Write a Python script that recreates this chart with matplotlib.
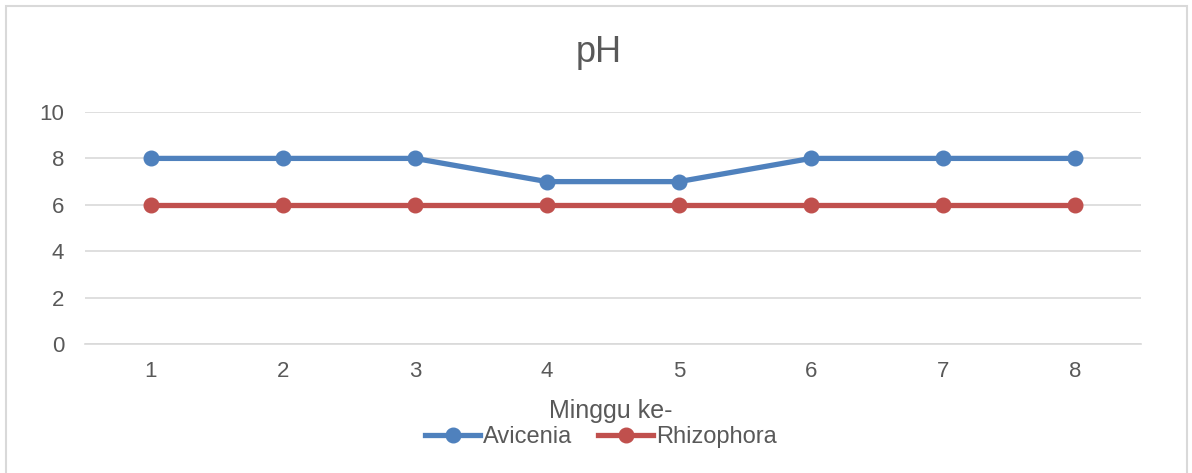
import matplotlib.pyplot as plt
from matplotlib.patches import Rectangle

plt.rcParams['font.family'] = ['Liberation Sans', 'DejaVu Sans']

# data
weeks = [1, 2, 3, 4, 5, 6, 7, 8]
avicenia = [8, 8, 8, 7, 7, 8, 8, 8]
rhizophora = [6, 6, 6, 6, 6, 6, 6, 6]
y_ticks = [0, 2, 4, 6, 8, 10]

text_color = '#595959'
grid_color = '#D9D9D9'

fig = plt.figure(figsize=(11.92, 4.73), dpi=100)
ax = fig.add_axes([0.0713, 0.2727, 0.8859, 0.4905])

# chart border
fig.patches.append(Rectangle((6 / 1192, -0.05), 1181 / 1192, 1.05 - 6 / 473,
                             transform=fig.transFigure, fill=False,
                             edgecolor=grid_color, linewidth=1.5))

ax.plot(weeks, avicenia, color='#4F81BD', linewidth=3.8, marker='o',
        markersize=10.5, label='Avicenia', zorder=3)
ax.plot(weeks, rhizophora, color='#C0504D', linewidth=3.8, marker='o',
        markersize=10.5, label='Rhizophora', zorder=3)

ax.set_xlim(0.5, 8.5)
ax.set_ylim(0, 10)
ax.set_xticks(weeks)
ax.set_yticks(y_ticks)
ax.tick_params(axis='both', length=0, labelsize=16, colors=text_color)
ax.tick_params(axis='x', pad=12)
ax.tick_params(axis='y', pad=15)
ax.grid(axis='y', color=grid_color, linewidth=1.2)
ax.set_axisbelow(True)
for s in ['top', 'right', 'left']:
    ax.spines[s].set_visible(False)
ax.spines['bottom'].set_color(grid_color)
ax.spines['bottom'].set_linewidth(1.2)

fig.text(0.5025, 0.869, 'pH', ha='center', va='baseline', fontsize=26,
         color=text_color)
fig.text(0.5125, 0.1163, 'Minggu ke-', ha='center', va='baseline', fontsize=18,
         color=text_color)

fig.legend(loc='center', bbox_to_anchor=(0.504, 0.076), ncol=2, frameon=False,
           fontsize=17, labelcolor=text_color, handlelength=2.35,
           handletextpad=0.1, columnspacing=1.1)

fig.savefig('out.png', dpi=100)
